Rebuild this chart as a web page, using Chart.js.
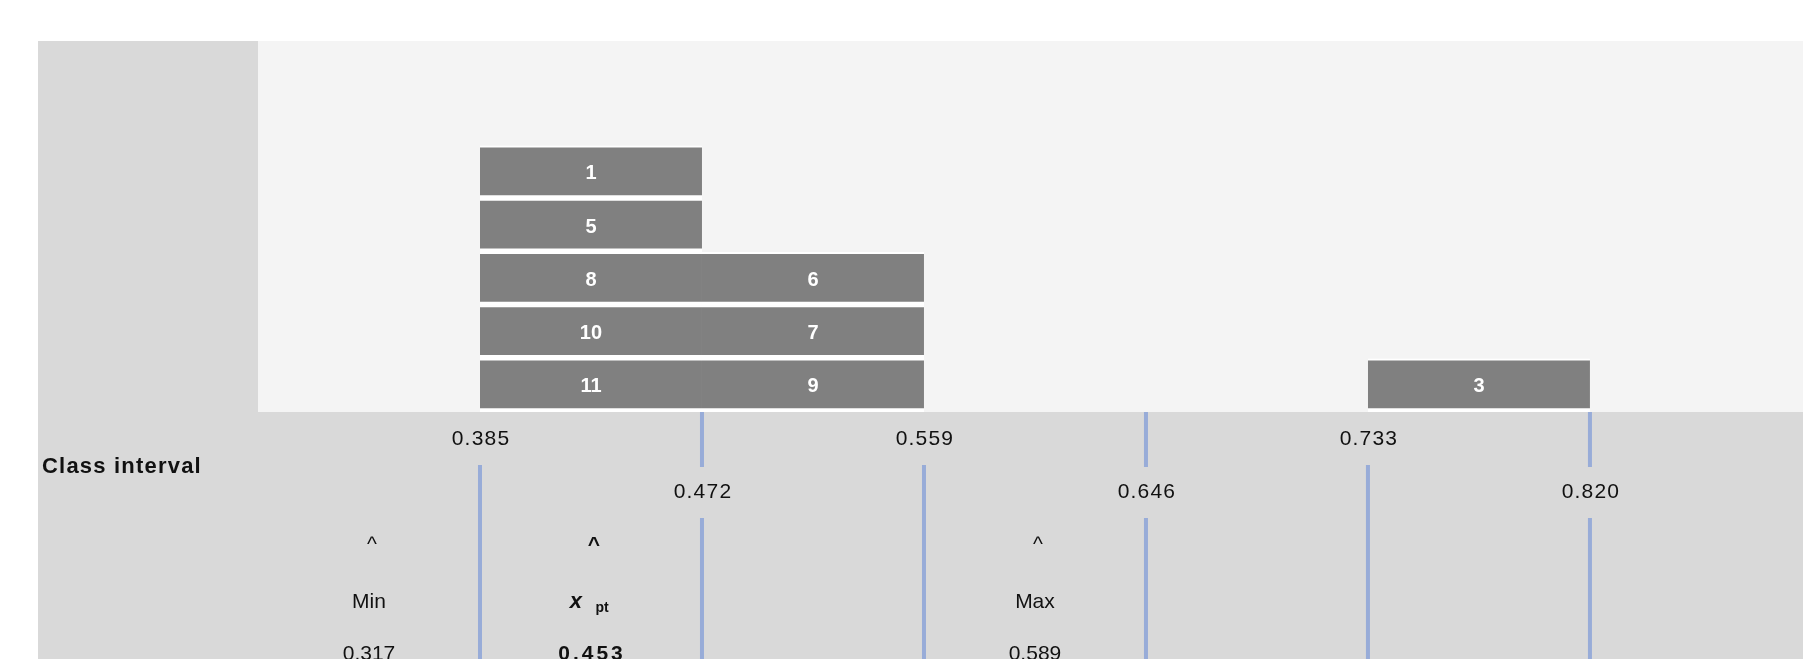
<!DOCTYPE html>
<html lang="en">
<head>
<meta charset="UTF-8">
<title>Class interval dot plot</title>
<script src="https://cdn.jsdelivr.net/npm/chart.js"></script>
<style>
  html, body { margin: 0; padding: 0; background: #fff; overflow: hidden; }
</style>
</head>
<body>
<canvas id="classChart" width="1803" height="659"></canvas>

<script>
// class interval boundaries
const classEdges = [0.298, 0.385, 0.472, 0.559, 0.646, 0.733, 0.820, 0.907];

// sample numbers and the class interval each falls in (index into classEdges), stacked bottom up
const sampleIds = [11, 10, 8, 5, 1, 9, 7, 6, 3];
const sampleClass = [1, 1, 1, 1, 1, 2, 2, 2, 5];

// summary markers shown under the axis
const statNames = ['Min', 'x', 'Max'];
const statValues = ['0.317', '0.453', '0.589'];
const statClass = [0, 1, 3];

const FONT = '"Liberation Sans", Arial, sans-serif';

// one box per sample, one row per sample already in that interval
const stackCount = {};
const cells = sampleIds.map((id, i) => {
  const c = sampleClass[i];
  const level = stackCount[c] || 0;
  stackCount[c] = level + 1;
  return { x: [classEdges[c], classEdges[c + 1]], y: level + 0.5 };
});

// grey frame and light plot panel
const panelBackground = {
  id: 'panelBackground',
  beforeDraw(chart) {
    const { ctx, chartArea: a, width, height } = chart;
    ctx.save();
    ctx.fillStyle = '#ffffff';
    ctx.fillRect(0, 0, width, height);
    ctx.fillStyle = '#d9d9d9';
    ctx.fillRect(38, a.top, width - 38, height - a.top);
    ctx.fillStyle = '#f4f4f4';
    ctx.fillRect(a.left, a.top, a.right - a.left, a.bottom - a.top);
    ctx.restore();
  }
};

// sample number inside each box
const cellLabels = {
  id: 'cellLabels',
  afterDatasetsDraw(chart) {
    const ctx = chart.ctx;
    const meta = chart.getDatasetMeta(0);
    ctx.save();
    ctx.font = 'bold 20px ' + FONT;
    ctx.fillStyle = '#ffffff';
    ctx.textAlign = 'center';
    ctx.textBaseline = 'middle';
    meta.data.forEach((bar, i) => {
      ctx.fillText(String(sampleIds[i]), (bar.x + bar.base) / 2, bar.y + 1.5);
    });
    ctx.restore();
  }
};

// class interval boundaries, dividers and the Min / x pt / Max markers
const intervalAxis = {
  id: 'intervalAxis',
  afterDraw(chart) {
    const { ctx, chartArea: a, height } = chart;
    const xs = chart.scales.x;
    const rowHi = a.bottom + 27;
    const rowLo = a.bottom + 80;
    ctx.save();
    ctx.textAlign = 'center';
    ctx.textBaseline = 'middle';

    classEdges.forEach((v, i) => {
      if (i === 0 || v > xs.max) return;
      const px = xs.getPixelForValue(v);
      const upper = i % 2 === 1;
      ctx.fillStyle = '#98acd8';
      if (upper) {
        ctx.fillRect(px - 2, a.bottom + 53, 4, height - a.bottom - 53);
      } else {
        ctx.fillRect(px - 2, a.bottom, 4, 55);
        ctx.fillRect(px - 2, a.bottom + 106, 4, height - a.bottom - 106);
      }
      ctx.fillStyle = '#111111';
      ctx.font = '21px ' + FONT;
      ctx.letterSpacing = '1.2px';
      ctx.fillText(v.toFixed(3), px + 1, upper ? rowHi : rowLo);
      ctx.letterSpacing = '0px';
    });

    ctx.textAlign = 'left';
    ctx.font = 'bold 22px ' + FONT;
    ctx.letterSpacing = '1.2px';
    ctx.fillText('Class interval', 42, a.bottom + 55);
    ctx.letterSpacing = '0px';
    ctx.textAlign = 'center';

    statNames.forEach((name, i) => {
      const c = statClass[i];
      const cx = xs.getPixelForValue((classEdges[c] + classEdges[c + 1]) / 2);
      const bold = name === 'x';
      ctx.font = (bold ? 'bold ' : '') + '21px ' + FONT;
      ctx.fillText('^', cx + 3, a.bottom + 133);
      if (bold) {
        ctx.font = 'italic bold 22px ' + FONT;
        ctx.fillText('x', cx - 15, a.bottom + 190);
        ctx.font = 'bold 14px ' + FONT;
        ctx.fillText('pt', cx + 11, a.bottom + 196);
        ctx.font = 'bold 21px ' + FONT;
        ctx.letterSpacing = '3px';
        ctx.fillText(statValues[i], cx + 1, a.bottom + 242);
        ctx.letterSpacing = '0px';
      } else {
        ctx.fillText(name, cx, a.bottom + 190);
        ctx.fillText(statValues[i], cx, a.bottom + 242);
      }
    });
    ctx.restore();
  }
};

const chart = new Chart(document.getElementById('classChart'), {
  type: 'bar',
  data: {
    datasets: [{
      data: cells,
      backgroundColor: '#808080',
      borderColor: '#ffffff',
      borderWidth: { top: 2, bottom: 4, left: 0, right: 0 },
      borderSkipped: false,
      barPercentage: 1,
      categoryPercentage: 1
    }]
  },
  options: {
    indexAxis: 'y',
    responsive: false,
    animation: false,
    events: [],
    layout: { padding: { left: 258, top: 41, right: 0, bottom: 247 } },
    plugins: { legend: { display: false }, tooltip: { enabled: false } },
    scales: {
      x: { type: 'linear', min: 0.298, max: 0.9035, beginAtZero: false, offset: false, display: false },
      y: { type: 'linear', min: 0, max: 6.967, offset: false, display: false,
           ticks: { stepSize: 1, includeBounds: false } }
    }
  },
  plugins: [panelBackground, cellLabels, intervalAxis]
});
</script>
</body>
</html>
